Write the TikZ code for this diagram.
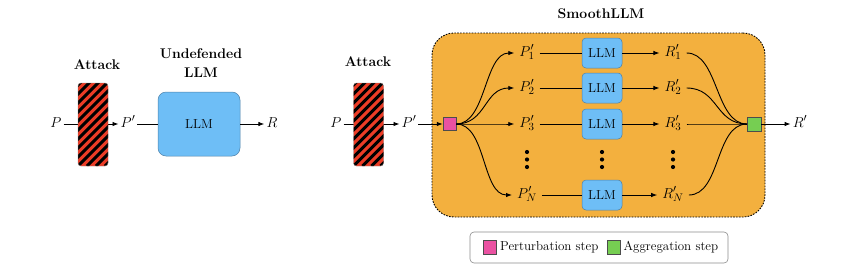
\documentclass[tikz,border=0pt]{standalone}
\usetikzlibrary{arrows.meta,calc}
\definecolor{attackred}{RGB}{236,60,38}
\definecolor{llmblue}{RGB}{110,190,246}
\definecolor{llmborder}{RGB}{78,128,168}
\definecolor{smoothorange}{RGB}{243,176,62}
\definecolor{pertpink}{RGB}{234,82,162}
\definecolor{agggreen}{RGB}{118,206,82}
\begin{document}
\begin{tikzpicture}[x=1pt,y=-1pt,
  every node/.style={font=\fontsize{13}{15}\selectfont},
  title/.style={font=\fontsize{14}{19}\selectfont\bfseries, align=center},
  lbl/.style={font=\fontsize{15}{17}\selectfont, text height=10pt, text depth=4pt, inner xsep=2pt, inner ysep=0pt},
  collbl/.style={lbl, inner xsep=5pt},
  conn/.style={line width=0.9pt},
  arr/.style={conn, -{Latex[length=6pt,width=4.5pt]}},
  attackbox/.style={draw=black!50, line width=0.4pt, fill=attackred, rounded corners=3pt,
    minimum width=30pt, minimum height=83pt, inner sep=0pt,
    path picture={\foreach \i in {-11,...,4}
      \draw[black, line width=3.1pt] ($(path picture bounding box.south west)+(\i*9pt,0pt)$) -- ++(130pt,130pt);}},
  bigllm/.style={draw=llmborder, line width=0.5pt, fill=llmblue, rounded corners=8pt,
    minimum width=82pt, minimum height=64pt},
  smallllm/.style={draw=llmborder, line width=0.5pt, fill=llmblue, rounded corners=4pt,
    minimum width=40pt, minimum height=30pt, inner sep=0pt},
  pertsq/.style={draw=black!70, line width=0.5pt, fill=pertpink, minimum size=13pt, inner sep=0pt},
  aggsq/.style={draw=black!70, line width=0.5pt, fill=agggreen, minimum size=13.5pt, inner sep=0pt},
  smoothbg/.style={draw=black, line width=0.9pt, dash pattern=on 1.6pt off 1.3pt,
    fill=smoothorange, rounded corners=22pt, minimum width=333pt, minimum height=184pt},
  legendbox/.style={draw=black!45, line width=0.6pt, fill=white, rounded corners=4pt,
    minimum width=258pt, minimum height=31pt},
  dotmark/.style={circle, fill=black, minimum size=4.2pt, inner sep=0pt},
]
\useasboundingbox (0,0) rectangle (860,279);

% ---------- left: undefended ----------
\node[title] (t1) at (97,65) {Attack};
\node[title] (t2) at (201,63) {Undefended\\LLM};
\node[lbl] (lp) at (56,124) {$P$};
\node[lbl] (lpp) at (128,124) {$P'$};
\draw[arr] (lp) -- (lpp);
\node[attackbox] (a1) at (93,124.5) {};
\node[bigllm] (llm0) at (199,124) {LLM};
\node[lbl] (lr) at (272,124) {$R$};
\draw[conn] (lpp) -- (llm0);
\draw[arr] (llm0) -- (lr);

% ---------- right: SmoothLLM ----------
\node[smoothbg] (bg) at (598.5,125) {};
\node[title] (t3) at (601,14) {SmoothLLM};
\node[title] (t4) at (368,62) {Attack};
\node[lbl] (rp) at (336,124) {$P$};
\node[lbl] (rpp) at (409,124) {$P'$};
\draw[arr] (rp) -- (rpp);
\node[attackbox] (a2) at (368.5,124.5) {};
\node[pertsq] (pert) at (449.5,124) {};
\draw[arr] (rpp) -- (pert);

\node[collbl] (p1) at (527,53) {$P'_1$};
\node[collbl] (p2) at (527,88) {$P'_2$};
\node[collbl] (p3) at (527,124) {$P'_3$};
\node[collbl] (pn) at (527,195) {$P'_N$};

\node[smallllm] (m1) at (602,53) {LLM};
\node[smallllm] (m2) at (602,88) {LLM};
\node[smallllm] (m3) at (602,124) {LLM};
\node[smallllm] (mn) at (602,195) {LLM};

\node[collbl] (r1) at (673,53) {$R'_1$};
\node[collbl] (r2) at (673,88) {$R'_2$};
\node[collbl] (r3) at (673,124) {$R'_3$};
\node[collbl] (rn) at (673,195) {$R'_N$};

\node[aggsq] (agg) at (754,124) {};
\node[lbl] (rf) at (800,124) {$R'$};

\foreach \n in {p1,p2,p3,pn}
  \draw[arr] (pert.east) .. controls +(30pt,0pt) and +(-30pt,0pt) .. (\n.west);
\foreach \p/\m/\r in {p1/m1/r1,p2/m2/r2,p3/m3/r3,pn/mn/rn}{
  \draw[conn] (\p) -- (\m);
  \draw[arr] (\m) -- (\r);
}
\foreach \r in {r1,r2,r3,rn}
  \draw[conn] (\r.east) .. controls +(32pt,0pt) and +(-32pt,0pt) .. (agg.west);
\draw[arr] (agg) -- (rf);

\foreach \x/\c in {527/pd,602/md,673/rd}{
  \node[dotmark] (\c1) at (\x,152) {};
  \node[dotmark] (\c2) at (\x,159.5) {};
  \node[dotmark] (\c3) at (\x,167) {};
}

% ---------- legend ----------
\node[legendbox] (leg) at (599,247.5) {};
\node[pertsq, minimum width=13pt, minimum height=14pt] (lg1) at (490,247) {};
\node[anchor=west, inner xsep=3pt] (lt1) at (497,247) {Perturbation step};
\node[aggsq, minimum width=13pt, minimum height=14pt] (lg2) at (614,247) {};
\node[anchor=west, inner xsep=3pt] (lt2) at (620.5,247) {Aggregation step};
\end{tikzpicture}
\end{document}
